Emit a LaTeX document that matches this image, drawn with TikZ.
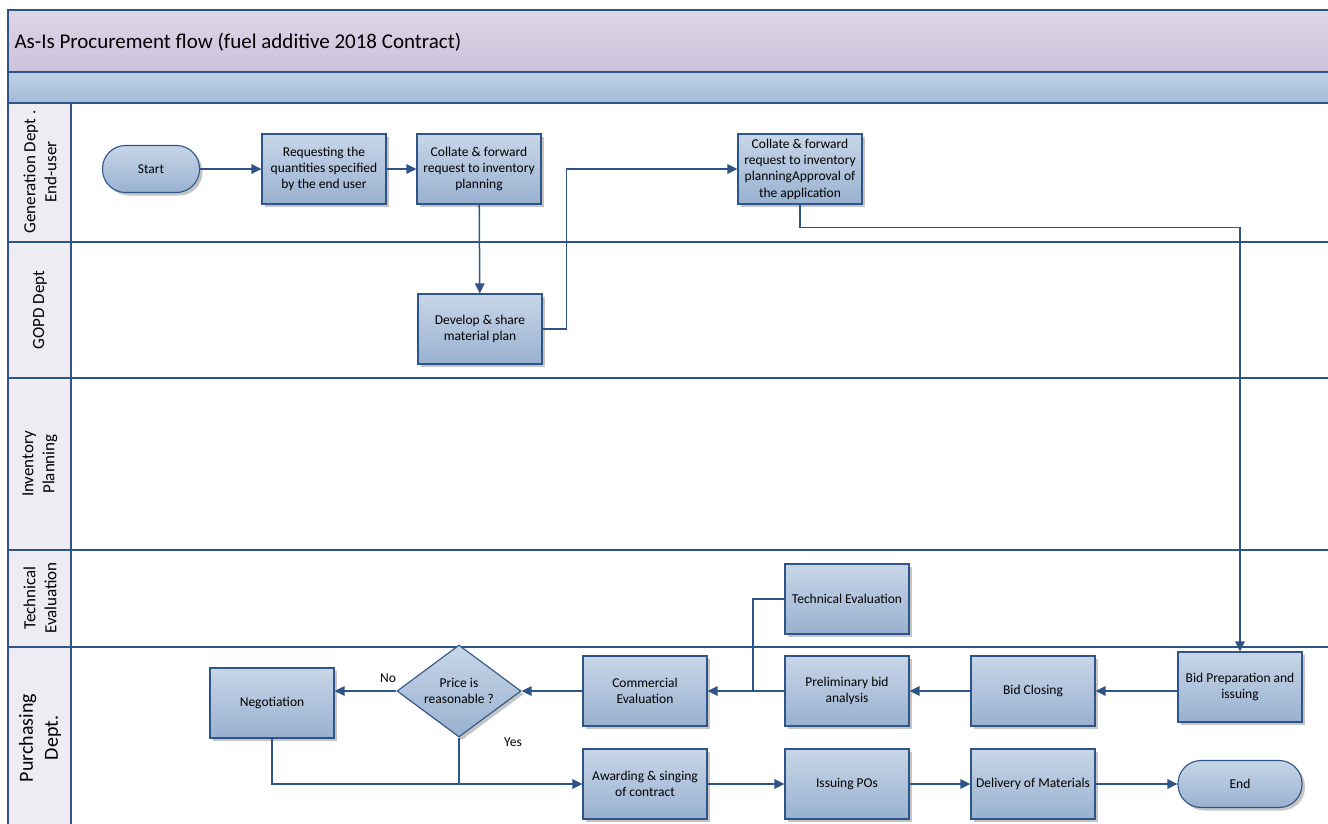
\documentclass[tikz,border=0pt]{standalone}
\usepackage{fontspec}
\setmainfont{Carlito}
\usetikzlibrary{shapes.geometric,shadows,arrows.meta}

\definecolor{linecol}{HTML}{2F5488}
\definecolor{boxtop}{HTML}{C8D6E8}
\definecolor{boxbot}{HTML}{98B1D0}
\definecolor{titletop}{HTML}{DED6E8}
\definecolor{titlebot}{HTML}{CCC1DA}
\definecolor{bandtop}{HTML}{BED1E6}
\definecolor{bandbot}{HTML}{A3BAD6}
\definecolor{lanecol}{HTML}{EEEBF3}

\tikzset{
  proc/.style={draw=linecol, line width=1.1pt, top color=boxtop, bottom color=boxbot,
    minimum width=124pt, minimum height=70pt, inner sep=2pt, align=center,
    font=\fontsize{13.5}{16.3}\selectfont,
    drop shadow={shadow xshift=3pt, shadow yshift=-3pt, fill=black!45, opacity=0.5}},
  term/.style={proc, rounded corners=23pt, minimum height=47pt},
  decision/.style={proc, diamond, aspect=1.35, minimum width=124pt, minimum height=92pt, inner sep=0pt},
  flow/.style={draw=linecol, line width=1.5pt, -{Triangle[length=10pt,width=9.5pt]}},
  link/.style={draw=linecol, line width=1.5pt},
  lane/.style={draw=linecol, line width=1.3pt},
  lanelabel/.style={rotate=90, align=center, font=\fontsize{17}{21}\selectfont},
  small/.style={font=\fontsize{13.5}{16.3}\selectfont}
}

\begin{document}
\begin{tikzpicture}[x=1pt, y=-1pt]
    \useasboundingbox (0,0) rectangle (1328,823);
    \begin{scope}
    \clip (0,0) rectangle (1328,823);

    % Title band and header band
    \shade[top color=titletop, bottom color=titlebot] (8,10) rectangle (1340,72);
    \shade[top color=bandtop, bottom color=bandbot] (8,72) rectangle (1340,103);
    \fill[lanecol] (8,103) rectangle (71,830);
    \node[anchor=west, font=\fontsize{21}{25}\selectfont] (title) at (11,42) {As-Is Procurement flow (fuel additive 2018 Contract)};

    % Lane borders
    \draw[lane] (1340,10) -- (8,10) -- (8,830);
    \draw[lane] (8,72) -- (1340,72);
    \draw[lane] (8,103) -- (1340,103);
    \draw[lane] (71,103) -- (71,830);
    \foreach \y in {242,378,550,647}
        \draw[lane] (8,\y) -- (1340,\y);

    % Lane labels
    \node[lanelabel] (lgen) at (40,172) {Generation Dept .\\End-user};
    \node[lanelabel] (lgopd) at (40,310) {GOPD Dept};
    \node[lanelabel] (linv) at (40,464) {Inventory\\Planning};
    \node[lanelabel] (ltech) at (40,598) {Technical\\Evaluation};
    \node[lanelabel, font=\fontsize{20}{25}\selectfont] (lpur) at (40,738) {Purchasing\\Dept.};

    % Steps in the first lanes
    \node[term, minimum width=97pt] (start) at (151,169) {Start};
    \node[proc] (req) at (324,169) {Requesting the\\quantities specified\\by the end user};
    \node[proc] (coll) at (479,169) {Collate \& forward\\request to inventory\\planning};
    \node[proc] (dev) at (480,329) {Develop \& share\\material plan};
    \node[proc] (appr) at (800,169) {Collate \& forward\\request to inventory\\planningApproval of\\the application};

    % Steps in the technical and purchasing lanes
    \node[proc] (tech) at (847,599) {Technical Evaluation};
    \node[proc] (bprep) at (1240,687) {Bid Preparation and\\issuing};
    \node[proc] (bclose) at (1033,691) {Bid Closing};
    \node[proc] (prelim) at (847,691) {Preliminary bid\\analysis};
    \node[proc] (comm) at (645,691) {Commercial\\Evaluation};
    \node[decision] (dec) at (459,691) {Price is\\reasonable ?};
    \node[proc] (neg) at (272,703) {Negotiation};
    \node[proc] (award) at (645,784) {Awarding \& singing\\of contract};
    \node[proc] (ipo) at (847,784) {Issuing POs};
    \node[proc] (deliv) at (1033,784) {Delivery of Materials};
    \node[term] (endn) at (1240,784) {End};

    % Branch labels
    \node[small] (no) at (388,678) {No};
    \node[small] (yes) at (513,742) {Yes};

    % Connectors
    \draw[flow] (start) -- (req);
    \draw[flow] (req) -- (coll);
    \draw[flow] (coll) -- (dev);
    \draw[flow] (dev.east) -- ++(24,0) |- (appr.west);
    \draw[flow] (appr.south) -- ++(0,23) -| (bprep.north);
    \draw[flow] (bclose.east -| bprep.west) -- (bclose.east);
    \draw[flow] (bclose) -- (prelim);
    \draw[flow] (prelim) -- (comm);
    \coordinate (tjoin) at (753,691);
    \draw[link] (tech.west) -| (tjoin);
    \draw[flow] (comm) -- (dec);
    \draw[flow] (dec.west) -- (neg.east |- dec.west);
    \draw[flow] (dec.south) |- (award.west);
    \draw[link] (neg.south) |- (dec.south |- award.west);
    \draw[flow] (award) -- (ipo);
    \draw[flow] (ipo) -- (deliv);
    \draw[flow] (deliv) -- (endn);
    \end{scope}
\end{tikzpicture}
\end{document}
